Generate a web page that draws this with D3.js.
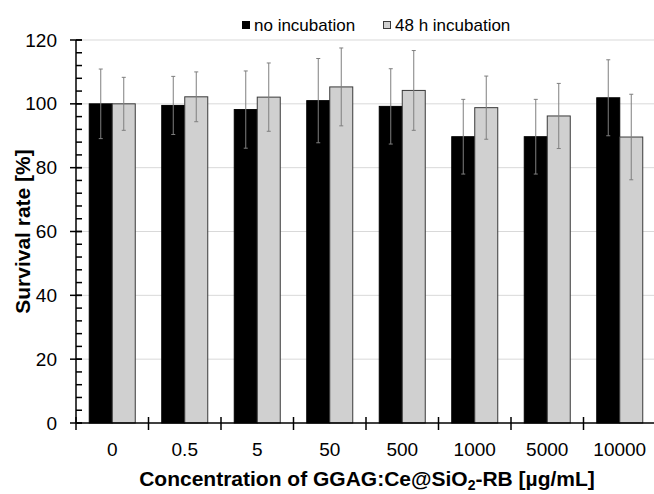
<!DOCTYPE html>
<html lang="en">
<head>
    <meta charset="UTF-8">
    <title>Survival rate</title>
    <script src="https://d3js.org/d3.v7.min.js"></script>
    <style>
        body { margin: 0; background: #fff; }
        svg { display: block; font-family: "Liberation Sans", Arial, sans-serif; }
        .grid line { stroke: #d9d9d9; stroke-width: 1px; }
        .tick-label { font-size: 19px; fill: #000; }
        .axis-title { font-size: 21px; font-weight: bold; fill: #000; }
        .legend text { font-size: 17px; fill: #000; }
    </style>
</head>
<body>
<div id="chart"></div>

<script type="text/javascript">
    // data
    var categories = ['0', '0.5', '5', '50', '500', '1000', '5000', '10000'];
    var noIncubation = [100, 99.5, 98.2, 101.0, 99.2, 89.7, 89.7, 101.9];
    var noIncubationErr = [10.9, 9.1, 12.1, 13.2, 11.8, 11.7, 11.7, 11.9];
    var incubation48h = [100, 102.2, 102.1, 105.3, 104.2, 98.8, 96.2, 89.6];
    var incubation48hErr = [8.3, 7.8, 10.7, 12.2, 12.5, 9.9, 10.2, 13.4];
    var seriesNames = ['no incubation', '48 h incubation'];
    var yTicks = [0, 20, 40, 60, 80, 100, 120];

    var width = 654,
        height = 494,
        margin = {top: 40, left: 76, bottom: 71},
        plotW = 580, // the plot runs a little past the right edge of the picture
        plotH = height - margin.top - margin.bottom;

    var svg = d3.select('#chart').append('svg')
        .attr('width', width)
        .attr('height', height);

    var g = svg.append('g')
        .attr('transform', 'translate(' + margin.left + ',' + margin.top + ')');

    var x0 = d3.scaleBand().domain(categories).range([0, plotW]).padding(0);
    var bw = x0.bandwidth();
    var x1 = d3.scaleBand().domain([0, 1]).range([bw / 2 - 23, bw / 2 + 23]).padding(0);
    var y = d3.scaleLinear().domain([0, 120]).range([plotH, 0]);

    // gridlines
    g.append('g').attr('class', 'grid')
        .selectAll('line').data(yTicks.filter(function (d) { return d > 0; }))
        .enter().append('line')
        .attr('x1', 0).attr('x2', plotW)
        .attr('y1', function (d) { return y(d); })
        .attr('y2', function (d) { return y(d); });

    var rows = categories.map(function (c, i) {
        return [
            {cat: c, s: 0, v: noIncubation[i], e: noIncubationErr[i]},
            {cat: c, s: 1, v: incubation48h[i], e: incubation48hErr[i]}
        ];
    });

    var groups = g.selectAll('.group').data(rows).enter().append('g')
        .attr('class', 'group')
        .attr('transform', function (d) { return 'translate(' + x0(d[0].cat) + ',0)'; });

    groups.selectAll('rect').data(function (d) { return d; }).enter().append('rect')
        .attr('x', function (d) { return x1(d.s); })
        .attr('width', x1.bandwidth())
        .attr('y', function (d) { return y(d.v); })
        .attr('height', function (d) { return y(0) - y(d.v); })
        .attr('fill', function (d) { return d.s ? '#d0d0d0' : '#000'; })
        .attr('stroke', function (d) { return d.s ? '#3a3a3a' : '#000'; })
        .attr('stroke-width', 1);

    // error bars
    var err = groups.selectAll('.err').data(function (d) { return d; }).enter().append('g')
        .attr('class', 'err')
        .attr('stroke', '#7f7f7f')
        .attr('stroke-width', 1);
    err.append('line')
        .attr('x1', function (d) { return x1(d.s) + x1.bandwidth() / 2; })
        .attr('x2', function (d) { return x1(d.s) + x1.bandwidth() / 2; })
        .attr('y1', function (d) { return y(d.v + d.e); })
        .attr('y2', function (d) { return y(d.v - d.e); });
    [1, -1].forEach(function (sign) {
        err.append('line')
            .attr('x1', function (d) { return x1(d.s) + x1.bandwidth() / 2 - 2; })
            .attr('x2', function (d) { return x1(d.s) + x1.bandwidth() / 2 + 2; })
            .attr('y1', function (d) { return y(d.v + sign * d.e); })
            .attr('y2', function (d) { return y(d.v + sign * d.e); });
    });

    // y axis: line, major ticks crossing, minor ticks inside
    var yAxis = g.append('g').attr('class', 'y-axis');
    yAxis.append('line')
        .attr('x1', 0).attr('x2', 0).attr('y1', 0).attr('y2', plotH)
        .attr('stroke', '#000').attr('stroke-width', 1.5);
    yAxis.selectAll('.minor').data(d3.range(0, 121, 4)).enter().append('line')
        .attr('x1', 0).attr('x2', 6)
        .attr('y1', function (d) { return y(d); })
        .attr('y2', function (d) { return y(d); })
        .attr('stroke', '#000').attr('stroke-width', 1.5);
    yAxis.selectAll('.major').data(yTicks).enter().append('line')
        .attr('x1', -6).attr('x2', 6)
        .attr('y1', function (d) { return y(d); })
        .attr('y2', function (d) { return y(d); })
        .attr('stroke', '#000').attr('stroke-width', 1.5);
    yAxis.selectAll('text').data(yTicks).enter().append('text')
        .attr('class', 'tick-label')
        .attr('x', -19)
        .attr('y', function (d) { return y(d); })
        .attr('dy', '0.35em')
        .attr('text-anchor', 'end')
        .text(function (d) { return d; });

    // x axis
    var xAxis = g.append('g').attr('class', 'x-axis')
        .attr('transform', 'translate(0,' + plotH + ')');
    xAxis.append('line')
        .attr('x1', 0).attr('x2', plotW)
        .attr('stroke', '#000').attr('stroke-width', 1.5);
    xAxis.selectAll('.tick').data(categories).enter().append('line')
        .attr('x1', function (d) { return x0(d); })
        .attr('x2', function (d) { return x0(d); })
        .attr('y1', -6).attr('y2', 7)
        .attr('stroke', '#000').attr('stroke-width', 1.5);
    xAxis.selectAll('text').data(categories).enter().append('text')
        .attr('class', 'tick-label')
        .attr('x', function (d) { return x0(d) + bw / 2; })
        .attr('y', 33)
        .attr('text-anchor', 'middle')
        .text(function (d) { return d; });

    // axis titles
    var xt = svg.append('text').attr('class', 'axis-title')
        .attr('x', margin.left + 291).attr('y', 486)
        .attr('text-anchor', 'middle');
    xt.append('tspan').text('Concentration of GGAG:Ce@SiO');
    xt.append('tspan').attr('font-size', '14px').attr('dy', 4).text('2');
    xt.append('tspan').attr('dy', -4).text('-RB [µg/mL]');

    svg.append('text').attr('class', 'axis-title')
        .attr('transform', 'translate(30,' + (margin.top + plotH / 2) + ') rotate(-90)')
        .attr('text-anchor', 'middle')
        .text('Survival rate [%]');

    // legend
    var legend = svg.append('g').attr('class', 'legend');
    var legendX = [242, 383];
    seriesNames.forEach(function (name, i) {
        legend.append('rect')
            .attr('x', legendX[i] + 0.5).attr('y', 21.5)
            .attr('width', 7).attr('height', 7)
            .attr('fill', i ? '#d0d0d0' : '#000')
            .attr('stroke', i ? '#3a3a3a' : '#000');
        legend.append('text')
            .attr('x', legendX[i] + 12).attr('y', 31)
            .text(name);
    });
</script>
</body>
</html>
